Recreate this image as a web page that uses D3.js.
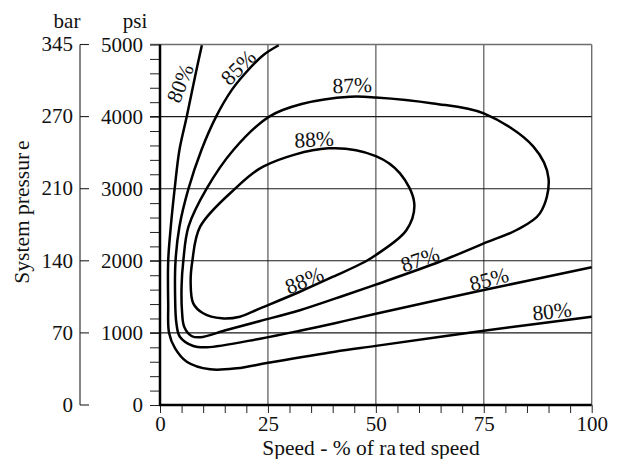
<!DOCTYPE html>
<html>
<head>
<meta charset="utf-8">
<script src="https://cdn.jsdelivr.net/npm/d3@7"></script>
<style>
  body { margin: 0; background: #fff; }
  svg text { font-family: "Liberation Serif", "Times New Roman", serif; fill: #111; }
</style>
</head>
<body>
<div id="chart"></div>
<script>
// axis values
const speedTicks = [0, 25, 50, 75, 100];
const psiTicks = [0, 1000, 2000, 3000, 4000, 5000];
const barLabels = ["0", "70", "140", "210", "270", "345"];

// efficiency contours, [speed %, psi]
const eff80 = [[9.7, 4990], [8.1, 4550], [6.2, 4000], [4.5, 3537], [3.4, 3000], [2.5, 2473], [1.9, 2000], [1.9, 1400], [2.1, 1000], [3.5, 786], [6.2, 601], [11.6, 495], [17.8, 509], [25, 585], [40.5, 740], [50, 820], [75, 1030], [100, 1225]];
const eff85 = [[27.5, 4990], [23.9, 4852], [19.7, 4598], [16.6, 4367], [13, 4000], [9.6, 3537], [6.6, 3000], [4.5, 2473], [3.6, 2000], [3.5, 1500], [3.8, 1133], [4.6, 947], [7.7, 818], [10.8, 800], [23.2, 920], [32.4, 1030], [40.5, 1135], [50, 1265], [75, 1595], [100, 1910]];
// closed loops
const eff87 = [[44, 4275], [50, 4266], [63.3, 4183], [75, 4044], [86.5, 3583], [90, 3143], [88, 2658], [82.6, 2427], [75, 2242], [64.9, 1990], [50, 1670], [40.5, 1475], [32.4, 1315], [23.2, 1165], [15.4, 1040], [9.3, 939], [7.3, 957], [5.6, 1086], [5.1, 1300], [5.0, 1650], [5.4, 2000], [6.6, 2473], [10.8, 3000], [17.0, 3537], [25.3, 4000], [32.8, 4174]];
const eff88 = [[39, 3560], [50, 3453], [55.6, 3213], [58.9, 2797], [57.1, 2427], [50, 2080], [47.5, 1987], [40.1, 1779], [32.4, 1571], [23.2, 1341], [18.5, 1225], [14.3, 1202], [10, 1272], [7.7, 1410], [7.1, 1700], [7.5, 2000], [9.3, 2473], [17.4, 3000], [24, 3310]];

// contour labels
const labelText = ["80%", "85%", "87%", "88%", "88%", "87%", "85%", "80%"];
const labelSpeed = [4.6, 18.1, 44.5, 35.7, 33.4, 60.2, 76.2, 90.8];
const labelPsi = [4464, 4686, 4437, 3688, 1733, 2024, 1747, 1303];

const labelAngle = [-68, -45, -2, -3, -22, -19, -15, -6];

const width = 625, height = 459;
const fontSize = "21px";

const svg = d3.select("#chart")
  .append("svg")
  .attr("width", width)
  .attr("height", height);

const x = d3.scaleLinear().domain([0, 100]).range([160, 591.7]);
const y = d3.scaleLinear().domain([0, 5000]).range([405, 44.5]);

// vertical grid
svg.append("g")
  .selectAll("line")
  .data(speedTicks.filter(d => d > 0))
  .enter()
  .append("line")
  .attr("x1", d => x(d)).attr("x2", d => x(d))
  .attr("y1", y(0)).attr("y2", y(5000))
  .attr("stroke", "#6e6e6e")
  .attr("stroke-width", 1.4);

// horizontal grid (starts at the tick end)
svg.append("g")
  .selectAll("line")
  .data(psiTicks.filter(d => d > 0))
  .enter()
  .append("line")
  .attr("x1", x(0) - 10).attr("x2", x(100))
  .attr("y1", d => y(d)).attr("y2", d => y(d))
  .attr("stroke", d => d === 5000 ? "#6e6e6e" : "#1a1a1a")
  .attr("stroke-width", d => d === 5000 ? 1.4 : 1.1);

// psi axis
const psiAxis = svg.append("g")
  .attr("transform", `translate(${x(0)},0)`)
  .call(d3.axisLeft(y)
    .tickValues(d3.range(0, 5001, 200))
    .tickSize(10)
    .tickPadding(7)
    .tickFormat(d => d % 1000 === 0 ? d : ""));
psiAxis.select(".domain").remove();
psiAxis.selectAll("line").attr("stroke", "#222");
psiAxis.selectAll("text").style("font-size", fontSize).attr("fill", "#111");

// speed axis
const speedAxis = svg.append("g")
  .attr("transform", `translate(0,${y(0)})`)
  .call(d3.axisBottom(x)
    .tickValues(d3.range(0, 101, 5))
    .tickSize(8)
    .tickPadding(3)
    .tickFormat(d => d % 25 === 0 ? d : ""));
speedAxis.select(".domain").remove();
speedAxis.selectAll("line").attr("stroke", "#222");
speedAxis.selectAll("text").style("font-size", fontSize).attr("fill", "#111");

// thick frame lines
svg.append("line")
  .attr("x1", x(0)).attr("x2", x(0))
  .attr("y1", y(5000)).attr("y2", y(0) + 1)
  .attr("stroke", "#000").attr("stroke-width", 2.5);
svg.append("line")
  .attr("x1", x(0) - 1).attr("x2", x(100))
  .attr("y1", y(0)).attr("y2", y(0))
  .attr("stroke", "#000").attr("stroke-width", 2.5);

// bar axis
const barX = 80;
const barAxis = svg.append("g");
barAxis.append("line")
  .attr("x1", barX).attr("x2", barX)
  .attr("y1", y(5000)).attr("y2", y(0))
  .attr("stroke", "#222").attr("stroke-width", 1.1);
barAxis.selectAll(".btick")
  .data(psiTicks)
  .enter()
  .append("line")
  .attr("x1", barX).attr("x2", barX + 9)
  .attr("y1", d => y(d)).attr("y2", d => y(d))
  .attr("stroke", "#222").attr("stroke-width", 1.1);
barAxis.selectAll(".blabel")
  .data(psiTicks)
  .enter()
  .append("text")
  .attr("x", barX - 7)
  .attr("y", d => y(d))
  .attr("dy", "0.32em")
  .attr("text-anchor", "end")
  .style("font-size", fontSize)
  .text((d, i) => barLabels[i]);

// unit headers
svg.append("text").attr("x", 67).attr("y", 28).attr("text-anchor", "middle")
  .style("font-size", fontSize).text("bar");
svg.append("text").attr("x", 135).attr("y", 28).attr("text-anchor", "middle")
  .style("font-size", fontSize).text("psi");

// axis titles
const xTitle = svg.append("text")
  .attr("x", 371).attr("y", 455)
  .attr("text-anchor", "middle")
  .style("font-size", "21.5px");
xTitle.append("tspan").text("Speed - % of ra");
xTitle.append("tspan").attr("dx", 3).text("ted speed");

const yTitle = svg.append("text")
  .attr("transform", "translate(29,212) rotate(-90)")
  .attr("text-anchor", "middle")
  .style("font-size", "21.5px");
yTitle.append("tspan").text("System pressur");
yTitle.append("tspan").attr("dx", 3).text("e");

// contours
const openLine = d3.line()
  .x(d => x(d[0]))
  .y(d => y(d[1]))
  .curve(d3.curveCatmullRom.alpha(0.5));
const loopLine = d3.line()
  .x(d => x(d[0]))
  .y(d => y(d[1]))
  .curve(d3.curveCatmullRomClosed.alpha(0.5));

const curves = svg.append("g")
  .attr("fill", "none")
  .attr("stroke", "#000")
  .attr("stroke-width", 2.5);
curves.append("path").attr("d", openLine(eff80));
curves.append("path").attr("d", openLine(eff85));
curves.append("path").attr("d", loopLine(eff87));
curves.append("path").attr("d", loopLine(eff88));

// contour labels
svg.append("g")
  .selectAll("text")
  .data(labelText)
  .enter()
  .append("text")
  .attr("transform", (d, i) => `translate(${x(labelSpeed[i])},${y(labelPsi[i])}) rotate(${labelAngle[i]})`)
  .attr("text-anchor", "middle")
  .attr("dy", "0.35em")
  .style("font-size", "21.5px")
  .text(d => d);
</script>
</body>
</html>
